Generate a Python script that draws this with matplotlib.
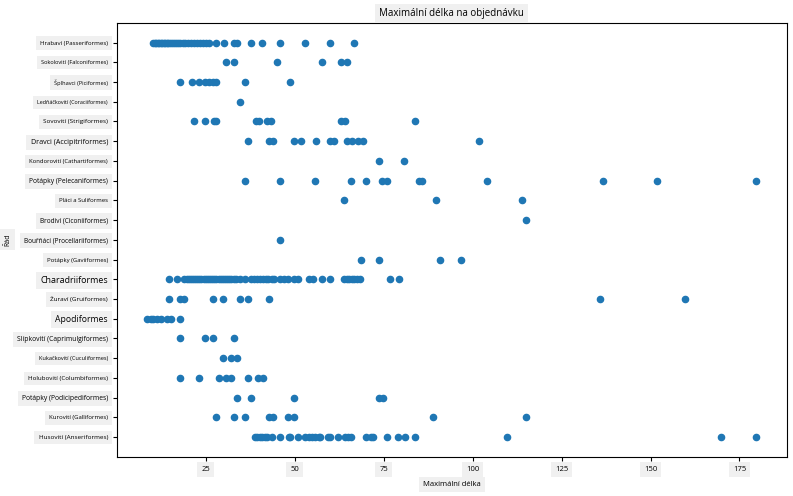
import matplotlib.pyplot as plt

plt.rcParams['font.family'] = ['Open Sans', 'DejaVu Sans']

# rady odspodu nahoru (prvni kategorie je dole)
rady = [
    "Husovití (Anseriformes)",
    "Kurovití (Galliformes)",
    "Potápky (Podicipediformes)",
    "Holubovití (Columbiformes)",
    "Kukačkovití (Cuculiformes)",
    "Slípkovití (Caprimulgiformes)",
    "Apodiformes",
    "Žuraví (Gruiformes)",
    "Charadriiformes",
    "Potápky (Gaviiformes)",
    "Bouřňáci (Procellariiformes)",
    "Brodiví (Ciconiiformes)",
    "Pláci a Suliformes",
    "Potápky (Pelecaniformes)",
    "Kondorovití (Cathartiformes)",
    "Dravci (Accipitriformes)",
    "Sovovití (Strigiformes)",
    "Ledňáčkovití (Coraciiformes)",
    "Šplhavci (Piciformes)",
    "Sokolovití (Falconiformes)",
    "Hrabaví (Passeriformes)",
]

delky = [
    [38.7, 39.4, 40.2, 40.9, 41.7, 42.2, 43.5, 46.0, 48.3, 48.8, 50.8, 53.0, 53.9, 54.9,
     55.8, 56.7, 57.2, 59.3, 59.8, 62.1, 64.2, 64.9, 65.8, 69.9, 71.3, 72.0, 75.8, 78.9,
     80.9, 83.9, 109.7, 169.9, 179.7],
    [28.0, 32.8, 35.9, 42.9, 44.0, 48.2, 49.9, 89.0, 114.9],
    [33.9, 37.8, 49.9, 73.8, 74.9],
    [17.9, 23.0, 28.8, 30.8, 32.0, 37.0, 39.8, 41.2],
    [29.9, 32.0, 33.9],
    [17.9, 24.9, 26.9, 32.8],
    [8.6, 9.5, 10.3, 11.4, 12.3, 14.0, 15.1, 17.9],
    [14.8, 17.9, 19.0, 26.9, 29.9, 34.7, 37.0, 42.9, 135.9, 159.8],
    [14.8, 16.8, 19.0, 19.6, 20.2, 20.8, 21.4, 22.0, 22.6, 23.2, 23.8, 24.4, 25.0, 25.6,
     26.2, 26.8, 27.4, 28.0, 28.6, 29.2, 29.8, 30.4, 31.0, 31.6, 32.2, 32.8, 33.4, 34.7,
     35.9, 37.8, 38.6, 39.4, 40.2, 41.0, 41.8, 42.6, 43.5, 44.3, 46.0, 47.0, 48.0, 49.9,
     50.8, 53.9, 55.0, 57.8, 59.8, 63.9, 64.6, 65.3, 66.0, 66.8, 67.6, 68.4, 76.9, 79.2],
    [68.7, 73.8, 90.9, 96.8],
    [46.0],
    [114.9],
    [63.9, 89.8, 114.0],
    [35.9, 46.0, 55.8, 65.9, 69.9, 74.6, 75.8, 84.8, 85.9, 103.9, 136.7, 151.9, 179.7],
    [73.8, 80.8],
    [37.0, 42.9, 44.0, 49.9, 51.9, 56.1, 59.8, 60.9, 64.8, 66.2, 67.9, 69.3, 101.9],
    [21.8, 24.9, 27.2, 28.0, 39.0, 40.1, 42.3, 43.2, 62.9, 64.2, 83.9],
    [34.7],
    [17.9, 21.0, 23.0, 24.9, 25.8, 26.9, 28.0, 35.9, 48.8],
    [30.8, 32.8, 44.9, 57.8, 62.9, 64.8],
    [10.3, 10.7, 11.1, 11.5, 11.9, 12.3, 12.7, 13.2, 13.6, 14.0, 14.5, 15.0, 15.5, 16.0,
     16.6, 17.2, 17.8, 18.5, 19.2, 20.0, 20.8, 21.6, 22.5, 23.4, 24.2, 25.1, 26.0, 28.0,
     30.2, 32.8, 33.9, 37.8, 40.9, 46.0, 53.0, 59.8, 66.8],
]

# velikosti popisku (prelozeny text ma ruzne velikosti)
velikosti = [4.6, 4.3, 4.9, 4.5, 4.1, 4.9, 6.2, 4.6, 6.4, 4.3, 4.7, 4.7, 4.3, 4.8, 4.2,
             5.1, 4.6, 3.9, 4.1, 4.1, 4.4]

x = []
y = []
for rad, hodnoty in zip(rady, delky):
    for h in hodnoty:
        x.append(h)
        y.append(rad)

fig, ax = plt.subplots(figsize=(7.93, 4.96), dpi=100)
fig.subplots_adjust(left=0.1475, right=0.992, top=0.954, bottom=0.079)

ax.scatter(x, y, s=20, color='#1f77b4')

box = dict(facecolor='#f0f0f0', edgecolor='none', pad=3)
for lbl, v in zip(ax.get_yticklabels(), velikosti):
    lbl.set_fontsize(v)
    lbl.set_bbox(box)
for lbl in ax.get_xticklabels():
    lbl.set_fontsize(5.5)
    lbl.set_bbox(box)
ax.tick_params(length=3, width=0.8)

ax.set_title('Maximální délka na objednávku', fontsize=7, pad=5, bbox=box)
ax.set_xlabel('Maximální délka', fontsize=5.5, labelpad=6, bbox=box)
ax.set_ylabel('Řád', fontsize=5, bbox=box)
ax.yaxis.set_label_coords(-0.158, 0.5)

plt.savefig('out.png', dpi=100)
